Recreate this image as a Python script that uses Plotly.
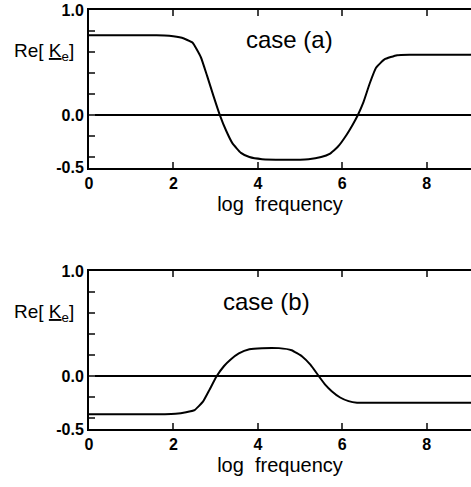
import plotly.graph_objects as go
from plotly.subplots import make_subplots

# case (a)
freq_a = [0, 1.6, 1.9, 2.2, 2.45, 2.65, 2.8, 2.95, 3.1, 3.25, 3.4, 3.6, 3.8, 4.1, 4.6,
          5.2, 5.5, 5.7, 5.9, 6.1, 6.25, 6.37, 6.5, 6.65, 6.8, 7.0, 7.3, 7.6, 9.05]
re_a = [0.76, 0.76, 0.755, 0.735, 0.69, 0.55, 0.37, 0.18, 0.0, -0.15, -0.27, -0.36, -0.40, -0.42, -0.425,
        -0.42, -0.40, -0.37, -0.30, -0.19, -0.09, 0.0, 0.12, 0.30, 0.45, 0.53, 0.57, 0.575, 0.575]

# case (b)
freq_b = [0, 1.8, 2.05, 2.3, 2.5, 2.7, 2.85, 3.02, 3.2, 3.35, 3.55, 3.8, 4.1, 4.5, 4.8,
          5.05, 5.25, 5.45, 5.6, 5.75, 5.95, 6.15, 6.35, 6.6, 9.05]
re_b = [-0.36, -0.36, -0.355, -0.34, -0.32, -0.24, -0.13, 0.0, 0.1, 0.16, 0.22, 0.26, 0.27, 0.27, 0.25,
        0.19, 0.11, 0.0, -0.08, -0.14, -0.2, -0.235, -0.25, -0.25, -0.25]

ytick_vals = [-0.5, -0.4, -0.2, 0.0, 0.2, 0.4, 0.6, 0.8, 1.0]
ytick_text = ["-0.5", "", "", "0.0", "", "", "", "", "1.0"]
xtick_vals = [0, 2, 4, 6, 8]

font = "Liberation Sans, Arial, Helvetica, sans-serif"

fig = make_subplots(rows=2, cols=1, vertical_spacing=0.248)

fig.add_trace(go.Scatter(x=freq_a, y=re_a, mode="lines", line=dict(color="black", width=2, shape="spline", smoothing=0.4)), row=1, col=1)
fig.add_trace(go.Scatter(x=freq_b, y=re_b, mode="lines", line=dict(color="black", width=2, shape="spline", smoothing=0.4)), row=2, col=1)

for r in (1, 2):
    fig.update_xaxes(range=[0, 9.05], tickvals=xtick_vals, ticks="inside", ticklen=6, tickwidth=2,
                     showline=True, linewidth=2, linecolor="black", mirror="ticks",
                     showgrid=False, zeroline=False, automargin=False,
                     tickfont=dict(size=16, family=font, color="black", weight="bold"),
                     title=dict(text="log  frequency", font=dict(size=20, family=font, color="black"), standoff=6),
                     row=r, col=1)
    fig.update_yaxes(range=[-0.5, 1.0], tickvals=ytick_vals, ticktext=ytick_text, ticks="inside",
                     ticklen=6, tickwidth=2, showline=True, linewidth=2, linecolor="black",
                     showgrid=False, zeroline=True, zerolinecolor="black", zerolinewidth=1.5,
                     automargin=False,
                     tickfont=dict(size=16, family=font, color="black", weight="bold"),
                     row=r, col=1)

fig.add_annotation(x=4.75, y=0.72, xref="x", yref="y", text="case (a)", showarrow=False,
                   font=dict(size=24, family=font, color="black"))
fig.add_annotation(x=4.2, y=0.71, xref="x2", yref="y2", text="case (b)", showarrow=False,
                   font=dict(size=24, family=font, color="black"))
fig.add_annotation(x=-0.035, y=0.6, xref="paper", yref="y", text="Re[ <u>K</u><sub>e</sub>]",
                   showarrow=False, xanchor="right", yanchor="middle",
                   font=dict(size=19, family=font, color="black"))
fig.add_annotation(x=-0.035, y=0.6, xref="paper", yref="y2", text="Re[ <u>K</u><sub>e</sub>]",
                   showarrow=False, xanchor="right", yanchor="middle",
                   font=dict(size=19, family=font, color="black"))

fig.update_layout(width=471, height=487, margin=dict(l=89, r=0, t=10, b=58),
                  paper_bgcolor="white", plot_bgcolor="white", showlegend=False)

# drop the browser's default 8px body margin so the figure sits at the page corner
fig.write_html("out.html", config={"displayModeBar": False},
               post_script="document.body.style.margin='0';")
